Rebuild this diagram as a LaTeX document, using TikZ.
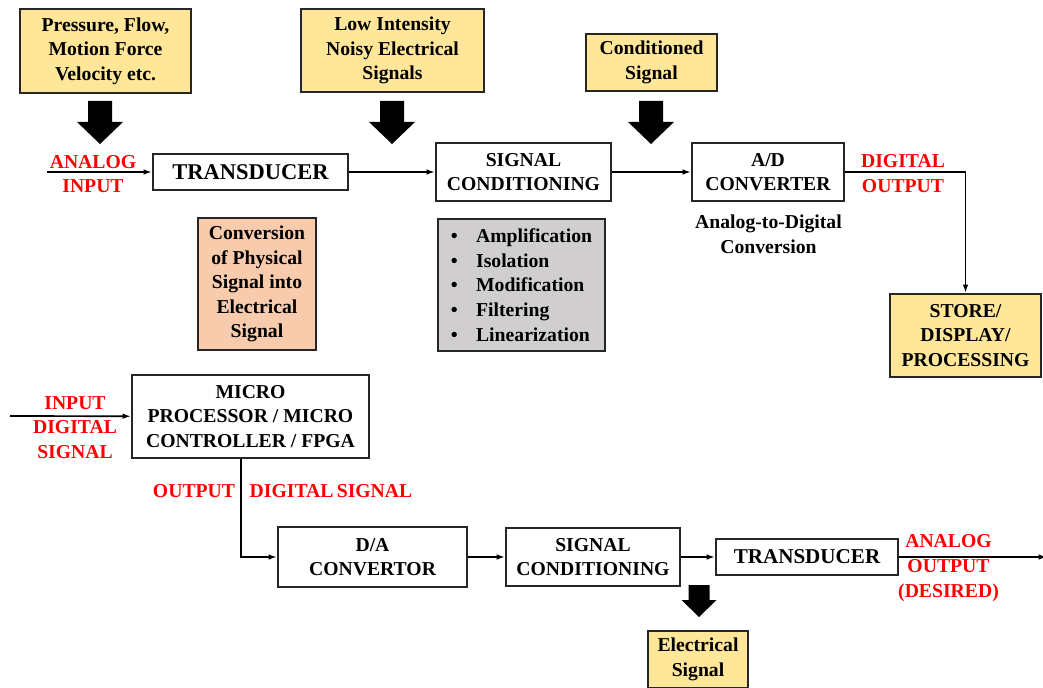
\documentclass[tikz,border=0pt]{standalone}
\usepackage{fontspec}
\setmainfont{Liberation Serif}
\usetikzlibrary{arrows.meta}
\definecolor{noteyellow}{HTML}{FFE699}
\definecolor{noteorange}{HTML}{F8CBAD}
\definecolor{notegray}{HTML}{D0CECE}
\newcommand{\fatarrow}[6] % x, top, head base, tip, half shaft, half head (px)
{
	% shaft and head in one piece
	\fill[black] (#1-#5,#2) -- (#1+#5,#2) -- (#1+#5,#3) -- (#1+#6,#3) -- (#1,#4) -- (#1-#6,#3) -- (#1-#5,#3) -- cycle;
}
\tikzset{
	block/.style={draw=black!85, line width=1.3pt, fill=white, align=center, inner sep=2pt, font=\bfseries\fontsize{14}{17.5}\selectfont},
	note/.style={block, fill=noteyellow},
	bigblock/.style={block, font=\bfseries\fontsize{16}{19}\selectfont},
	redtext/.style={text=red, align=center, inner sep=0pt, font=\bfseries\fontsize{14}{17.5}\selectfont},
	plaintext/.style={align=center, inner sep=0pt, font=\bfseries\fontsize{14}{17.5}\selectfont}
}

\begin{document}
\begin{tikzpicture}[x=0.025cm, y=-0.025cm, >={Latex[length=6pt,width=4pt]}, line width=1.2pt]
	% 1043 x 688 px, 1px = 0.025cm
	\useasboundingbox (0,0) rectangle (1043,688);
	
	% top chain: measuring
	\node[note, minimum width=4.28cm, minimum height=2.1cm] (press) at (105.5,51) {Pressure, Flow,\\Motion Force\\Velocity etc.};
	\node[note, minimum width=4.58cm, minimum height=2.08cm] (lowint) at (392.5,50.5) {Low Intensity\\Noisy Electrical\\Signals};
	\node[note, minimum width=3.28cm, minimum height=1.43cm] (condsig) at (651.5,62.5) {Conditioned\\Signal};
	
	\fatarrow{100}{101}{122}{144}{12}{23};
	\fatarrow{392}{101}{122}{144}{12}{23};
	\fatarrow{651}{101}{122}{144}{12}{23};
	
	\node[bigblock, minimum width=4.88cm, minimum height=0.9cm] (trans1) at (250.5,172) {TRANSDUCER};
	\node[block, minimum width=4.38cm, minimum height=1.43cm] (sigc1) at (523.5,172) {SIGNAL\\CONDITIONING};
	\node[block, minimum width=3.8cm, minimum height=1.45cm] (adc) at (768,172) {A/D\\CONVERTER};
	\node[note, minimum width=3.78cm, minimum height=2.08cm] (store) at (965.5,335.5) {STORE/\\DISPLAY/\\PROCESSING};
	
	\node[redtext] (ain) at (93,174) {ANALOG\\INPUT};
	\node[redtext] (dout) at (903,173.5) {DIGITAL\\OUTPUT};
	\node[plaintext] (adtext) at (768.5,234.5) {Analog-to-Digital\\Conversion};
	
	\node[block, fill=noteorange, minimum width=2.95cm, minimum height=3.3cm] (conv) at (257,284) {Conversion\\of Physical\\Signal into\\Electrical\\Signal};
	\node[block, fill=notegray, align=left, minimum width=4.18cm, minimum height=3.3cm] (tasks) at (521.5,285) {%
		\textbullet\hspace{13pt}Amplification\\
		\textbullet\hspace{13pt}Isolation\\
		\textbullet\hspace{13pt}Modification\\
		\textbullet\hspace{13pt}Filtering\\
		\textbullet\hspace{13pt}Linearization};
	
	\coordinate (ainstart) at (47,172);
	\draw[->] (ainstart) -- (trans1);
	\draw[->] (trans1) -- (sigc1);
	\draw[->] (sigc1) -- (adc);
	\draw[->] (adc.east) -| (store.north);
	
	% bottom chain: actuating
	\node[block, minimum width=5.93cm, minimum height=2.08cm] (micro) at (250.5,416.5) {MICRO\\PROCESSOR / MICRO\\CONTROLLER / FPGA};
	\node[block, minimum width=4.73cm, minimum height=1.48cm] (dac) at (372.5,557) {D/A\\CONVERTOR};
	\node[block, minimum width=4.35cm, minimum height=1.45cm] (sigc2) at (593,557) {SIGNAL\\CONDITIONING};
	\node[block, font=\bfseries\fontsize{15}{18}\selectfont, minimum width=4.55cm, minimum height=0.9cm] (trans2) at (807,557) {TRANSDUCER};
	\node[note, minimum width=2.5cm, minimum height=1.43cm] (elec) at (698,659.5) {Electrical\\Signal};
	
	\fatarrow{699}{585}{600}{617}{10.5}{17.5};
	
	\node[redtext] (din) at (75,427.5) {INPUT\\DIGITAL\\SIGNAL};
	\node[redtext] (doutA) at (194,491) {OUTPUT};
	\node[redtext] (doutB) at (331,491) {DIGITAL\,SIGNAL};
	\node[redtext] (aout) at (948.5,568) {ANALOG\\OUTPUT\\(DESIRED)};
	
	\coordinate (dinstart) at (10,416);
	\coordinate (aoutend) at (1047,557);
	\draw[->] (dinstart) -- (micro);
	\draw[->] (micro.south) ++(-9.5,0) |- (dac.west);
	\draw[->] (dac) -- (sigc2);
	\draw[->] (sigc2) -- (trans2);
	\draw[->] (trans2) -- (aoutend);
	
\end{tikzpicture}
\end{document}
